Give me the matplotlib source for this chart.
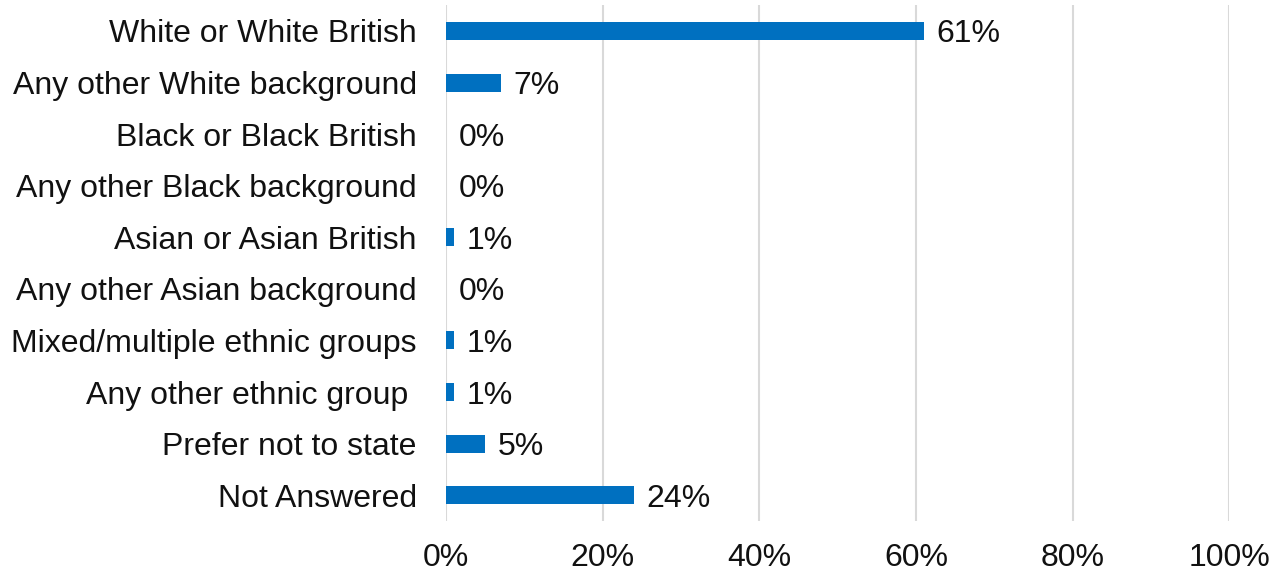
import matplotlib.pyplot as plt

categories = [
    "White or White British",
    "Any other White background",
    "Black or Black British",
    "Any other Black background",
    "Asian or Asian British",
    "Any other Asian background",
    "Mixed/multiple ethnic groups",
    "Any other ethnic group ",
    "Prefer not to state",
    "Not Answered",
]
percent = [61, 7, 0, 0, 1, 0, 1, 1, 5, 24]
x_ticks = [0, 20, 40, 60, 80, 100]

plt.rcParams["font.family"] = ["Liberation Sans", "DejaVu Sans"]
FS = 23

fig = plt.figure(figsize=(12.74, 5.75), dpi=100)
ax = fig.add_axes([0.350, 0.094, 0.615, 0.897])

ypos = list(range(len(categories)))
ax.barh(ypos, percent, height=0.35, color="#0070C0", zorder=3)

for y, v in zip(ypos, percent):
    ax.annotate(f"{v}%", xy=(v, y), xytext=(9, 0), textcoords="offset points",
                va="center_baseline", ha="left", fontsize=FS, color="#111111")

ax.set_xlim(0, 100)
ax.set_ylim(len(categories) - 0.5, -0.5)
ax.set_xticks(x_ticks)
ax.set_xticklabels([f"{t}%" for t in x_ticks], fontsize=FS, color="#111111")
ax.set_yticks(ypos)
ax.set_yticklabels(categories, fontsize=FS, color="#111111")
ax.tick_params(axis="both", length=0)
ax.tick_params(axis="y", pad=21)
ax.tick_params(axis="x", pad=16)

ax.grid(axis="x", color="#d9d9d9", linewidth=1.5, zorder=0)
for s in ax.spines.values():
    s.set_visible(False)

fig.savefig("out.png", dpi=100)
